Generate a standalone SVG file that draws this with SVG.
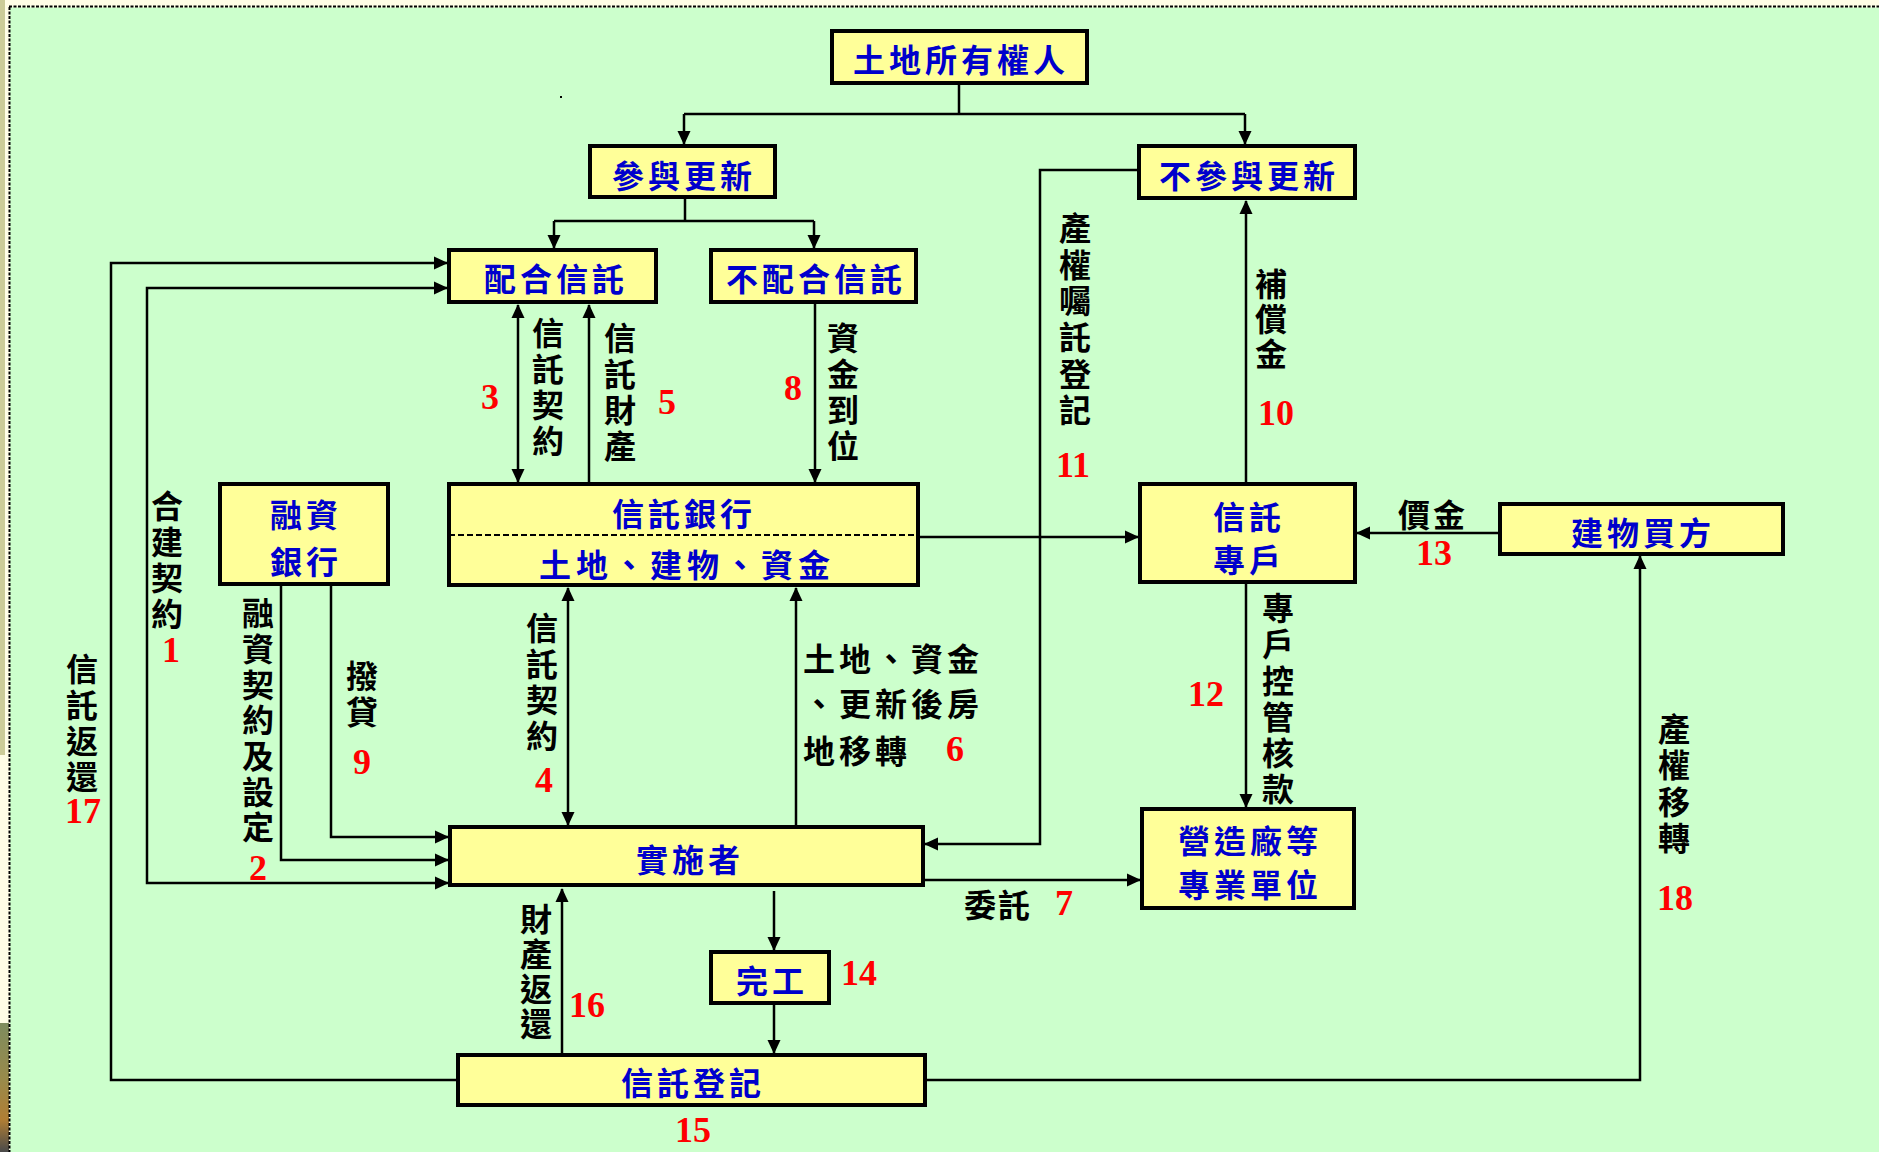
<svg xmlns="http://www.w3.org/2000/svg" width="1879" height="1152" viewBox="0 0 1879 1152">
<defs>
<style>
.box{fill:#FFFF99;stroke:#000;stroke-width:4}
.bt{font-family:'Noto Sans CJK TC','Noto Sans CJK SC',sans-serif;font-size:32px;font-weight:bold;fill:#0000CC;text-anchor:middle;dominant-baseline:central;letter-spacing:4px}
.lv{font-family:'Noto Sans CJK TC','Noto Sans CJK SC',sans-serif;font-size:32px;font-weight:bold;fill:#000;writing-mode:vertical-rl;text-orientation:upright;dominant-baseline:central;letter-spacing:4px}
.lh{font-family:'Noto Sans CJK TC','Noto Sans CJK SC',sans-serif;font-size:32px;font-weight:bold;fill:#000;dominant-baseline:central;letter-spacing:4px}
.num{font-family:'Liberation Serif','Times New Roman',serif;font-size:36px;font-weight:bold;fill:#FF0000;text-anchor:middle;dominant-baseline:central}
.c{fill:none;stroke:#000;stroke-width:2.5}
.a{marker-end:url(#ah)}
.aa{marker-start:url(#ah);marker-end:url(#ah)}
</style>
<marker id="ah" markerUnits="userSpaceOnUse" markerWidth="15" markerHeight="14" refX="13" refY="7" orient="auto-start-reverse">
<path d="M0,0.5 L14,7 L0,13.5 z" fill="#000"/>
</marker>
<linearGradient id="photo" x1="0" y1="0" x2="0" y2="1">
<stop offset="0" stop-color="#7E8C5E"/>
<stop offset="0.45" stop-color="#9A8A4A"/>
<stop offset="0.75" stop-color="#B07E34"/>
<stop offset="1" stop-color="#4A4A4A"/>
</linearGradient>
</defs>

<!-- background -->
<rect x="0" y="0" width="1879" height="1152" fill="#FFFDE6"/>
<rect x="0" y="0" width="5" height="755" fill="#CCCC99"/>
<rect x="0" y="1023" width="9" height="129" fill="url(#photo)"/>
<rect x="10" y="7.5" width="1869" height="1144.5" fill="#CCFFCC"/>
<line x1="9" y1="6.5" x2="1879" y2="6.5" stroke="#000" stroke-width="2" stroke-dasharray="3 1.5"/>
<line x1="9.5" y1="7" x2="9.5" y2="1152" stroke="#000" stroke-width="2" stroke-dasharray="3 1.5"/>
<rect x="560" y="96" width="2" height="2" fill="#000"/>

<g id="connectors">
<path class="c" d="M959,85 V114 M684,114 H1245"/>
<path class="c a" d="M684,114 V144"/>
<path class="c a" d="M1245,114 V144"/>
<path class="c" d="M685,199 V221 M554,221 H814"/>
<path class="c a" d="M554,221 V248"/>
<path class="c a" d="M814,221 V248"/>
<path class="c a" d="M456,1080 H111 V263 H447"/>
<path class="c aa" d="M447,288 H147 V883 H448"/>
<path class="c a" d="M281,586 V860 H448"/>
<path class="c a" d="M331,586 V837 H448"/>
<path class="c aa" d="M518,305 V482"/>
<path class="c a" d="M589,482 V305"/>
<path class="c a" d="M815,304 V482"/>
<path class="c a" d="M920,537 H1138"/>
<path class="c a" d="M1137,170 H1040 V844 H925"/>
<path class="c a" d="M1246,482 V201"/>
<path class="c a" d="M1498,533 H1357"/>
<path class="c a" d="M1246,584 V807"/>
<path class="c a" d="M923,880 H1140"/>
<path class="c aa" d="M568,588 V825"/>
<path class="c a" d="M796,825 V588"/>
<path class="c a" d="M774,891 V950"/>
<path class="c a" d="M774,1005 V1053"/>
<path class="c a" d="M562,1053 V889"/>
<path class="c a" d="M927,1080 H1640 V556"/>
</g>

<g id="n-owner"><rect class="box" x="832" y="31" width="255" height="52"/><text class="bt" x="961" y="58">土地所有權人</text></g>
<g id="n-join"><rect class="box" x="590" y="146" width="185" height="51"/><text class="bt" x="684" y="174">參與更新</text></g>
<g id="n-nojoin"><rect class="box" x="1139" y="146" width="216" height="52"/><text class="bt" x="1249" y="174">不參與更新</text></g>
<g id="n-coop"><rect class="box" x="449" y="250" width="207" height="52"/><text class="bt" x="556" y="277">配合信託</text></g>
<g id="n-nocoop"><rect class="box" x="711" y="250" width="205" height="52"/><text class="bt" x="816" y="277">不配合信託</text></g>
<g id="n-finbank"><rect class="box" x="220" y="484" width="168" height="100"/><text class="bt" x="306" y="513">融資</text><text class="bt" x="306" y="560">銀行</text></g>
<g id="n-trustbank"><rect class="box" x="449" y="484" width="469" height="101"/><line x1="449" y1="535" x2="918" y2="535" stroke="#000" stroke-width="2" stroke-dasharray="6 3"/><text class="bt" x="684" y="512">信託銀行</text><text class="bt" x="687" y="563" style="letter-spacing:5px">土地、建物、資金</text></g>
<g id="n-account"><rect class="box" x="1140" y="484" width="215" height="98"/><text class="bt" x="1249" y="515">信託</text><text class="bt" x="1249" y="558">專戶</text></g>
<g id="n-buyer"><rect class="box" x="1500" y="504" width="283" height="50"/><text class="bt" x="1643" y="531">建物買方</text></g>
<g id="n-impl"><rect class="box" x="450" y="827" width="473" height="58"/><text class="bt" x="690" y="858">實施者</text></g>
<g id="n-builder"><rect class="box" x="1142" y="809" width="212" height="99"/><text class="bt" x="1250" y="839">營造廠等</text><text class="bt" x="1250" y="883">專業單位</text></g>
<g id="n-done"><rect class="box" x="711" y="952" width="118" height="51"/><text class="bt" x="772" y="979">完工</text></g>
<g id="n-reg"><rect class="box" x="458" y="1055" width="467" height="50"/><text class="bt" x="693" y="1081">信託登記</text></g>

<g id="labels">
<text class="lv" x="548" y="317">信託契約</text>
<text class="num" x="490" y="397">3</text>
<text class="lv" x="620" y="322">信託財產</text>
<text class="num" x="667" y="402">5</text>
<text class="lv" x="843" y="322">資金到位</text>
<text class="num" x="793" y="388">8</text>
<text class="lv" x="1075" y="212" style="letter-spacing:4.4px">產權囑託登記</text>
<text class="num" x="1073" y="465">11</text>
<text class="lv" x="1271" y="268" style="letter-spacing:3px">補償金</text>
<text class="num" x="1276" y="413">10</text>
<text class="lv" x="167" y="490">合建契約</text>
<text class="num" x="171" y="650">1</text>
<text class="lv" x="258" y="597" style="letter-spacing:3.7px">融資契約及設定</text>
<text class="num" x="258" y="868">2</text>
<text class="lv" x="362" y="660">撥貸</text>
<text class="num" x="362" y="762">9</text>
<text class="lv" x="82" y="653">信託返還</text>
<text class="num" x="83" y="811">17</text>
<text class="lv" x="542" y="612">信託契約</text>
<text class="num" x="544" y="780">4</text>
<text class="lv" x="536" y="903" style="letter-spacing:3px">財產返還</text>
<text class="num" x="587" y="1005">16</text>
<text class="lv" x="1278" y="592" style="letter-spacing:4.2px">專戶控管核款</text>
<text class="num" x="1206" y="694">12</text>
<text class="lv" x="1674" y="713" style="letter-spacing:4.3px">產權移轉</text>
<text class="num" x="1675" y="898">18</text>
<text class="lh" x="803" y="657">土地、資金</text>
<text class="lh" x="803" y="702">、更新後房</text>
<text class="lh" x="803" y="749">地移轉</text>
<text class="num" x="955" y="749">6</text>
<text class="lh" x="964" y="903" style="letter-spacing:2px">委託</text>
<text class="num" x="1064" y="903">7</text>
<text class="lh" x="1398" y="513" style="letter-spacing:3px">價金</text>
<text class="num" x="1434" y="553">13</text>
<text class="num" x="859" y="973">14</text>
<text class="num" x="693" y="1130">15</text>
</g>
</svg>
